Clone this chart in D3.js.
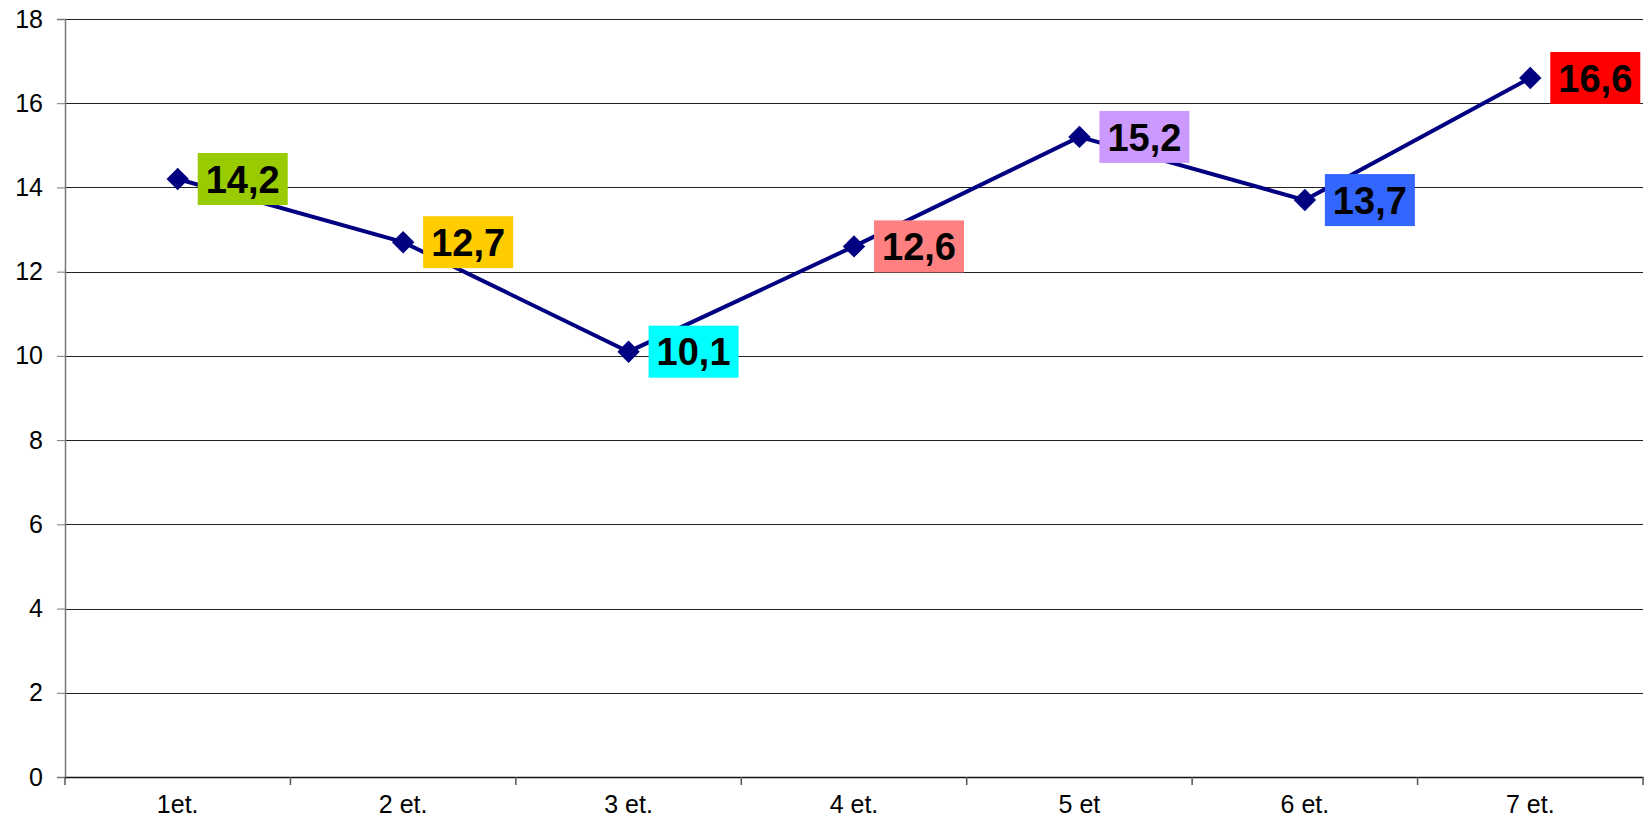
<!DOCTYPE html>
<html lang="en">
<head>
<meta charset="UTF-8">
<title>Line chart</title>
<script src="https://d3js.org/d3.v7.min.js"></script>
<style>
  body { margin: 0; background: #fff; }
  text { font-family: "Liberation Sans", Arial, sans-serif; }
</style>
</head>
<body>
<div id="chart"></div>
<script>
// Data
const categories = ["1et.", "2 et.", "3 et.", "4 et.", "5 et", "6 et.", "7 et."];
const values = [14.2, 12.7, 10.1, 12.6, 15.2, 13.7, 16.6];
const labelColors = ["#99CC00", "#FFCC00", "#00FFFF", "#FF8080", "#CC99FF", "#3366FF", "#FF0000"];
const yTicks = [0, 2, 4, 6, 8, 10, 12, 14, 16, 18];

const W = 1648, H = 822;
const margin = { top: 19, right: 5, bottom: 45, left: 65 };
const width = W - margin.left - margin.right;
const height = H - margin.top - margin.bottom;

const svg = d3.select("#chart").append("svg")
    .attr("width", W)
    .attr("height", H);

const g = svg.append("g")
    .attr("transform", `translate(${margin.left},${margin.top})`);

const x = d3.scaleBand().domain(categories).range([0, width]);
const y = d3.scaleLinear().domain([0, 18]).range([height, 0]);

// Gridlines
g.selectAll(".grid")
    .data(yTicks.filter(d => d > 0))
    .enter().append("line")
    .attr("x1", 0).attr("x2", width)
    .attr("y1", d => Math.round(y(d)) + 0.5)
    .attr("y2", d => Math.round(y(d)) + 0.5)
    .attr("stroke", "#222")
    .attr("stroke-width", 1);

// Y axis
const yAxis = g.append("g")
    .call(d3.axisLeft(y).tickValues(yTicks).tickSize(8).tickPadding(14).tickFormat(d3.format("d")));
yAxis.select(".domain").attr("stroke", "#777").attr("stroke-width", 1.5);
yAxis.selectAll(".tick line").attr("stroke", "#777");
yAxis.selectAll("text").style("font-size", "25px").attr("fill", "#000");

// X axis
const xAxis = g.append("g")
    .attr("transform", `translate(0,${height})`)
    .call(d3.axisBottom(x).tickSize(0).tickPadding(18));
xAxis.select(".domain").attr("stroke", "#111").attr("stroke-width", 1.5);
xAxis.selectAll("text").style("font-size", "25px").attr("fill", "#000");

// x tick marks at category boundaries
g.selectAll(".xtick")
    .data(categories.concat([null]))
    .enter().append("line")
    .attr("x1", (d, i) => i < categories.length ? x(d) : width)
    .attr("x2", (d, i) => i < categories.length ? x(d) : width)
    .attr("y1", height)
    .attr("y2", height + 8)
    .attr("stroke", "#555")
    .attr("stroke-width", 1.5);

const cx = d => x(d) + x.bandwidth() / 2;

// Line
const line = d3.line()
    .x((d, i) => cx(categories[i]))
    .y(d => y(d));

g.append("path")
    .datum(values)
    .attr("fill", "none")
    .attr("stroke", "#000080")
    .attr("stroke-width", 4)
    .attr("d", line);

// Markers
g.selectAll(".marker")
    .data(values)
    .enter().append("path")
    .attr("transform", (d, i) => `translate(${cx(categories[i])},${y(d)})`)
    .attr("d", d3.symbol().type(d3.symbolDiamond2).size(320))
    .attr("fill", "#000080");

// Data labels
const labels = g.selectAll(".label")
    .data(values)
    .enter().append("g")
    .attr("transform", (d, i) => `translate(${cx(categories[i]) + 20},${y(d)})`);

labels.append("rect")
    .attr("x", 0)
    .attr("y", -26)
    .attr("width", 90)
    .attr("height", 52)
    .attr("fill", (d, i) => labelColors[i]);

labels.append("text")
    .attr("x", 45)
    .attr("y", 0)
    .attr("dy", "0.36em")
    .attr("text-anchor", "middle")
    .style("font-size", "38px")
    .style("font-weight", "bold")
    .attr("fill", "#000")
    .text(d => d3.format(".1f")(d).replace(".", ","));
</script>
</body>
</html>
